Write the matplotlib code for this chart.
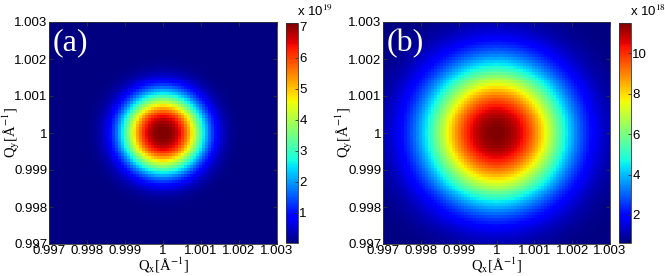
import numpy as np
import matplotlib
matplotlib.use("Agg")
import matplotlib.pyplot as plt

# ---- data ----
q_ticks = [0.997, 0.998, 0.999, 1.0, 1.001, 1.002, 1.003]
q_tick_labels = ['0.997', '0.998', '0.999', '1', '1.001', '1.002', '1.003']
n_cells = 76
q_center = 1.0

# panel (a): peak intensity, background, width, profile exponent
peak_a = 7.10e19
background_a = 0.03e19
width_a = 0.00106
shape_a = 2.6
cbar_ticks_a = [1, 2, 3, 4, 5, 6, 7]
exp_a = 19

# panel (b)
peak_b = 10.9e18
background_b = 0.6e18
width_b = 0.00184
shape_b = 2.3
cbar_ticks_b = [2, 4, 6, 8, 10]
exp_b = 18

W, H = 665, 276
fig = plt.figure(figsize=(W / 100, H / 100), dpi=100)
plt.rcParams['font.family'] = ['Liberation Sans', 'DejaVu Sans']
plt.rcParams['mathtext.fontset'] = 'stix'

edges = np.linspace(q_ticks[0], q_ticks[-1], n_cells + 1)
centers = 0.5 * (edges[:-1] + edges[1:])
QX, QY = np.meshgrid(centers, centers)
R = np.hypot(QX - q_center, QY - q_center)


def field(peak, bg, width, shape):
    return peak * np.exp(-(R / width) ** shape) + bg


def box(l, r, t, b):
    return [l / W, 1 - b / H, (r - l) / W, (b - t) / H]


serif = ['Liberation Serif', 'DejaVu Serif']

panels = [
    dict(ax=box(49, 277, 22, 244), cb=box(286, 298, 23, 243), label='(a)', ylx=-0.165,
         Z=field(peak_a, background_a, width_a, shape_a), e=exp_a, ticks=cbar_ticks_a),
    dict(ax=box(383, 610, 22, 244), cb=box(619, 631, 23, 243), label='(b)', ylx=-0.172,
         Z=field(peak_b, background_b, width_b, shape_b), e=exp_b, ticks=cbar_ticks_b),
]

for p in panels:
    ax = fig.add_axes(p['ax'])
    Z = p['Z'] / 10 ** p['e']
    m = ax.pcolormesh(edges, edges, Z, cmap='jet', shading='flat',
                      vmin=Z.min(), vmax=Z.max(), rasterized=True)
    ax.set_xlim(q_ticks[0], q_ticks[-1])
    ax.set_ylim(q_ticks[0], q_ticks[-1])
    ax.set_xticks(q_ticks)
    ax.set_xticklabels(q_tick_labels)
    ax.set_yticks(q_ticks)
    ax.set_yticklabels(q_tick_labels)
    ax.tick_params(direction='in', length=3, width=0.6, labelsize=9.5, pad=1.0,
                   top=True, right=True, color='#333333')
    for s in ax.spines.values():
        s.set_linewidth(0.6)
        s.set_color('#333333')
    ax.set_xlabel(r'Q$_\mathrm{x}$[Å$^{-1}$]', fontsize=10.5, family=serif,
                  labelpad=-1)
    ax.set_ylabel(r'Q$_\mathrm{y}$[Å$^{-1}$]', fontsize=10.5, family=serif,
                  va='center')
    ax.yaxis.set_label_coords(p['ylx'], 0.5)
    ax.text(0.015, 0.905, p['label'], transform=ax.transAxes, color='white',
            fontsize=23, family=serif, ha='left', va='center')

    cax = fig.add_axes(p['cb'])
    cb = fig.colorbar(m, cax=cax)
    cb.set_ticks(p['ticks'])
    cb.ax.tick_params(direction='in', length=2.5, width=0.6, labelsize=9.5, pad=1.0,
                      color='#333333')
    cb.outline.set_linewidth(0.6)
    cb.outline.set_edgecolor('#333333')
    cax.text(0.95, 1.02, r'x 10$^{%d}$' % p['e'], transform=cax.transAxes,
             fontsize=9.5, ha='left', va='bottom')

fig.savefig('out.png', dpi=100)
